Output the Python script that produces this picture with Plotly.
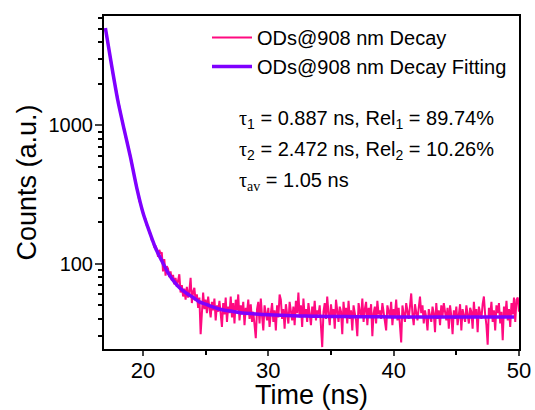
import numpy as np
import plotly.graph_objects as go

# time grid of the measured decay (ns), 0.1 ns sampling
time_ns = np.round(np.arange(17.0, 50.0001, 0.1), 1)

counts = [
    5010, 4480, 3900, 3500, 3020, 2730, 2350, 2120, 1820, 1670,   # 17
    1480, 1390, 1220, 1150, 1010, 950, 830, 790, 690, 650,        # 18
    600, 520, 490, 430, 400, 350, 325, 285, 272, 248,             # 19
    238, 216, 211, 190, 186, 168, 165, 148, 146, 131,             # 20
    135, 128, 112, 126, 118, 121, 88, 108, 82, 96,                # 21
    92, 80, 88, 76, 83, 71, 79, 68, 74, 84,                       # 22
    62, 70, 58, 66, 55, 68, 57, 64, 79, 52,                       # 23
    63, 67, 54, 60, 48, 57, 31, 50, 62, 47,                       # 24
    55, 44, 58, 48, 41, 53, 46, 56, 39, 50,                       # 25
    45, 54, 40, 35, 52, 43, 57, 38, 49, 44,                       # 26
    58, 41, 52, 37, 55, 46, 60, 39, 50, 43,                       # 27
    53, 36, 48, 44, 55, 40, 51, 38, 45, 34,                       # 28
    29, 47, 53, 37, 56, 42, 33, 50, 45, 39,                       # 29
    48, 35, 44, 52, 38, 46, 33, 50, 41, 60,                       # 30
    55, 40, 47, 34, 51, 43, 37, 53, 45, 39,                       # 31
    49, 36, 54, 44, 62, 41, 50, 35, 56, 42,                       # 32
    47, 38, 52, 44, 36, 49, 41, 54, 39, 46,                       # 33
    43, 50, 37, 25, 45, 52, 40, 58, 44, 36,                       # 34
    51, 41, 47, 34, 55, 43, 38, 49, 45, 31,                       # 35
    53, 42, 48, 37, 54, 40, 46, 33, 50, 44,                       # 36
    39, 30, 52, 45, 41, 56, 38, 47, 53, 36,                       # 37
    48, 42, 51, 30, 44, 49, 37, 54, 43, 46,                       # 38
    40, 52, 45, 38, 33, 50, 44, 41, 53, 36,                       # 39
    47, 42, 55, 39, 48, 35, 27, 50, 44, 38,                       # 40
    52, 45, 40, 49, 61, 43, 36, 51, 46, 39,                       # 41
    48, 58, 44, 50, 37, 46, 41, 33, 47, 43,                       # 42
    38, 49, 44, 32, 52, 40, 46, 36, 50, 42,                       # 43
    52, 45, 39, 48, 34, 50, 42, 31, 46, 40,                       # 44
    49, 36, 44, 51, 33, 47, 42, 38, 50, 43,                       # 45
    37, 48, 45, 34, 53, 41, 47, 32, 49, 44,                       # 46
    40, 51, 58, 43, 36, 26, 48, 42, 53, 38,                       # 47
    46, 33, 50, 44, 52, 37, 45, 28, 49, 41,                       # 48
    54, 39, 47, 35, 52, 43, 57, 38, 55, 57,                       # 49
    45,                                                           # 50
]

# bi-exponential fit curve
fit_time = [17.0, 17.5, 18.0, 18.5, 19.0, 19.5, 20.0, 20.5, 21.0, 21.5,
            22.0, 22.5, 23.0, 23.5, 24.0, 24.5, 25.0, 25.5, 26.0, 26.5,
            27.0, 28.0, 29.0, 30.0, 31.0, 32.0, 33.0, 34.0, 35.0, 36.0,
            38.0, 40.0, 45.0, 49.6]
fit_counts = [5050, 2700, 1500, 931, 589, 355, 234, 172, 130, 105,
              86, 74, 66, 61, 57, 53, 51, 49, 47.3, 46.2,
              45.5, 44, 43.3, 42.8, 42.4, 42.1, 41.9, 41.7, 41.6, 41.5,
              41.4, 41.3, 41.3, 41.3]

x_ticks = [20, 30, 40, 50]
y_ticks = [100, 1000]
y_minor = [30, 40, 50, 60, 70, 80, 90, 200, 300, 400, 500, 600, 700, 800, 900,
           2000, 3000, 4000, 5000, 6000]

legend_names = ["ODs@908 nm Decay", "ODs@908 nm Decay Fitting"]
SERIF = 'font-family:Liberation Serif'
fit_text = [
    f'<span style="{SERIF}">τ</span><sub>1</sub> = 0.887 ns, Rel<sub>1</sub> = 89.74%',
    f'<span style="{SERIF}">τ</span><sub>2</sub> = 2.472 ns, Rel<sub>2</sub> = 10.26%',
    f'<span style="{SERIF}">τ<sub>av</sub></span> = 1.05 ns',
]

FONT = "Liberation Sans"
PINK = "#FF0A80"
VIOLET = "#7F00FF"

W, H = 535, 410
ml, mr, mt, mb = 104, 16, 16, 61
PW, PH = W - ml - mr, H - mt - mb


def px_x(px):
    return (px - ml) / PW


def px_y(py):
    return 1 - (py - mt) / PH


fig = go.Figure()
fig.add_trace(go.Scatter(x=time_ns, y=counts, mode="lines", name=legend_names[0],
                         line=dict(color=PINK, width=2)))
fig.add_trace(go.Scatter(x=fit_time, y=fit_counts, mode="lines", name=legend_names[1],
                         line=dict(color=VIOLET, width=3.5, shape="spline", smoothing=0.6)))

for i, t in enumerate(fit_text):
    fig.add_annotation(x=px_x(237), y=px_y(119 + 31 * i), xref="paper", yref="paper", text=t,
                       showarrow=False, xanchor="left", yanchor="middle",
                       font=dict(family=FONT, size=20, color="black"))

fig.update_layout(
    width=W, height=H,
    margin=dict(l=ml, r=mr, t=mt, b=mb, autoexpand=False),
    paper_bgcolor="white", plot_bgcolor="white",
    font=dict(family=FONT, color="black"),
    showlegend=True,
    legend=dict(x=px_x(207), y=px_y(18), xanchor="left", yanchor="top",
                bgcolor="rgba(0,0,0,0)", font=dict(family=FONT, size=20),
                tracegroupgap=0, itemwidth=40),
)
fig.update_xaxes(
    range=[16.89, 50.0], tickvals=x_ticks, ticks="outside", ticklen=5, tickwidth=1.5,
    showline=True, linecolor="black", linewidth=2, mirror=True, showgrid=False,
    zeroline=False, tickfont=dict(size=22), automargin=False, ticklabelstandoff=-4,
    title=dict(text="Time (ns)", font=dict(size=27), standoff=4),
    minor=dict(ticks="outside", ticklen=4, tickvals=[25, 35, 45], tickcolor="black"),
)
fig.update_yaxes(
    type="log", range=[1.384, 3.79], tickvals=y_ticks, ticktext=["100", "1000"],
    ticks="outside", ticklen=7, tickwidth=1.5,
    showline=True, linecolor="black", linewidth=2, mirror=True, showgrid=False,
    zeroline=False, tickfont=dict(size=20), automargin=False, ticklabelstandoff=-2,
    title=dict(text="Counts (a.u.)", font=dict(size=27), standoff=4),
    minor=dict(ticks="outside", ticklen=4, tickvals=y_minor, tickcolor="black"),
)

fig.write_html("out.html", config={"displayModeBar": False},
               post_script="document.body.style.margin='0';document.body.style.padding='0';")
